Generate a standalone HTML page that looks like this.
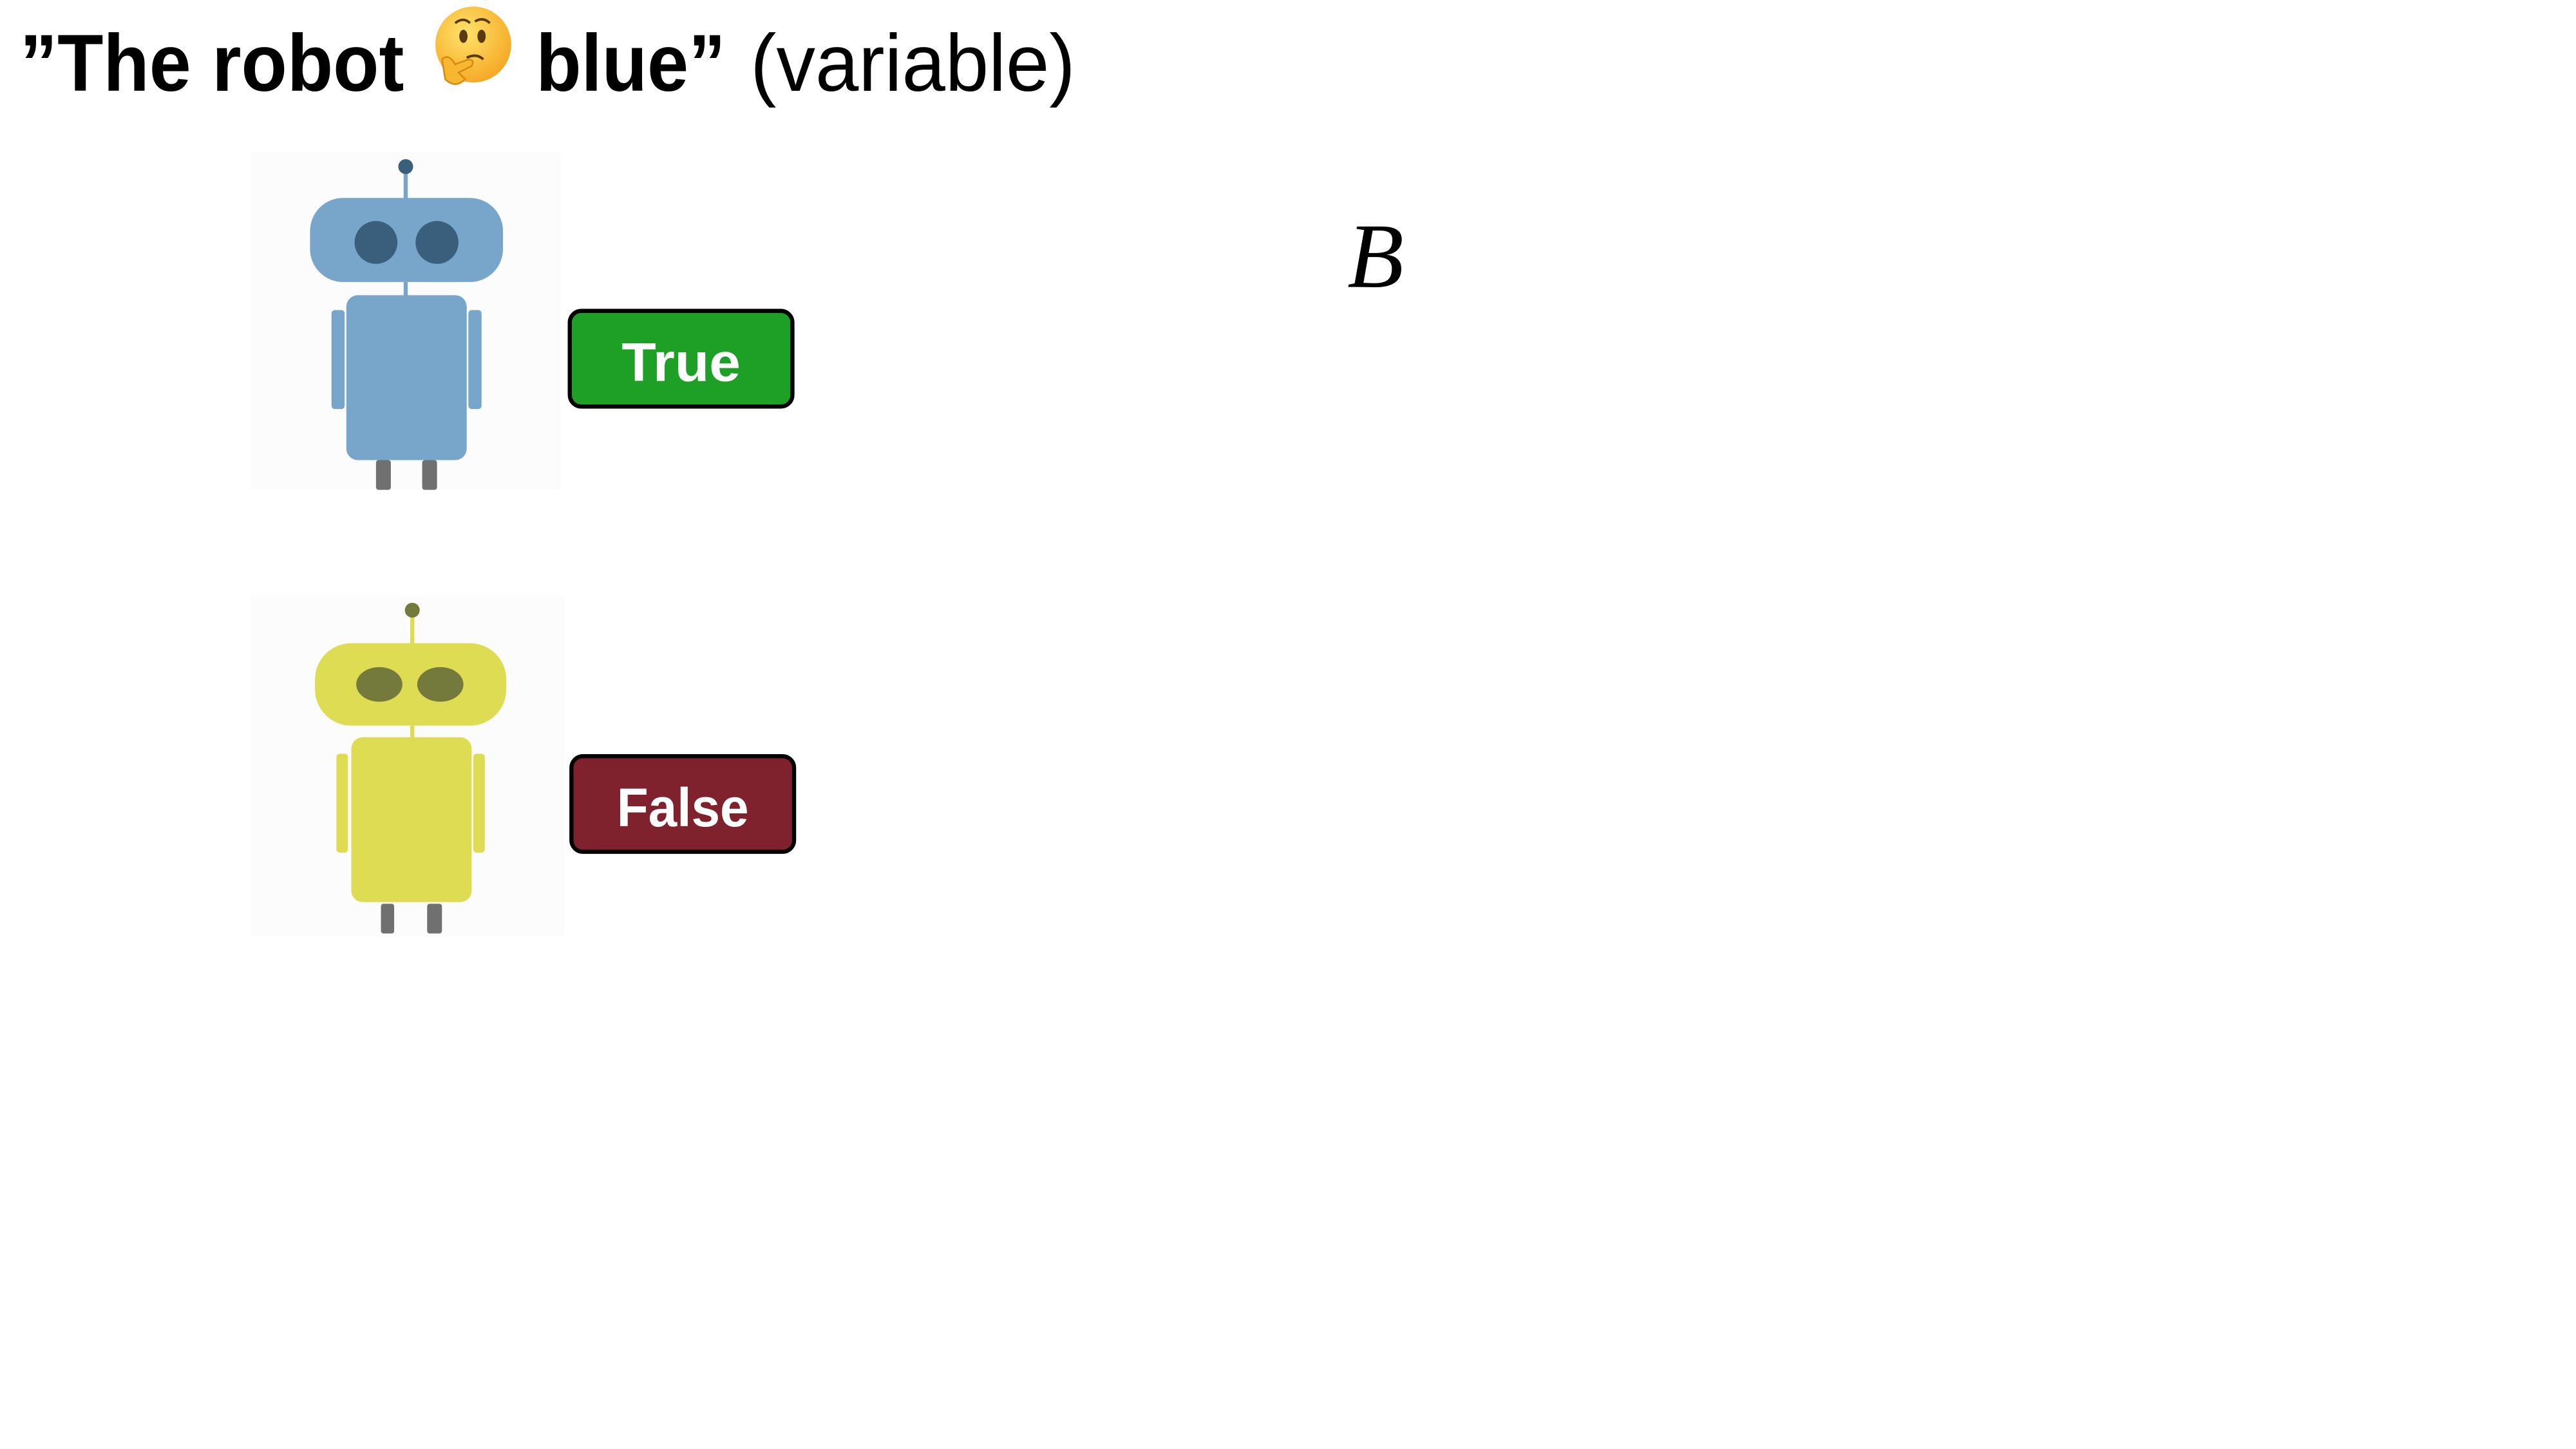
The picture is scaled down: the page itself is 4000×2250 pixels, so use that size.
<!DOCTYPE html>
<html><head><meta charset="utf-8"><style>
html,body{margin:0;padding:0;background:#fff;width:4000px;height:2250px;overflow:hidden}
svg{display:block}
</style></head><body>
<svg width="4000" height="2250" viewBox="0 0 1562 878.6" xmlns="http://www.w3.org/2000/svg">
<rect width="1562" height="879" fill="#fff"/>
<text x="12" y="55" font-family="Liberation Sans, sans-serif" font-weight="bold" font-size="49" textLength="233" lengthAdjust="spacingAndGlyphs">”The robot</text>
<g>
<defs><radialGradient id="eg" cx="40%" cy="35%" r="70%"><stop offset="0" stop-color="#ffe36a"/><stop offset="1" stop-color="#f5a623"/></radialGradient></defs>
<ellipse cx="287" cy="27" rx="23" ry="23" fill="url(#eg)"/>
<ellipse cx="281" cy="22" rx="2.5" ry="4" fill="#5a3a10"/>
<ellipse cx="292" cy="22" rx="2.5" ry="4" fill="#5a3a10"/>
<path d="M276 14 q5 -4 9 0 M288 13 q5 -3 9 1" stroke="#5a3a10" stroke-width="1.5" fill="none"/>
<path d="M283 35 q6 -3 10 1" stroke="#5a3a10" stroke-width="1.5" fill="none"/>
<path d="M268 36 q4 -4 8 3 l8 -3 q4 0 2 4 l-8 4 l4 4 q-6 6 -12 0 z" fill="#f7b731" stroke="#d98a10" stroke-width="1"/>
</g>
<text x="325" y="55" font-family="Liberation Sans, sans-serif" font-weight="bold" font-size="49" textLength="115" lengthAdjust="spacingAndGlyphs">blue”</text>
<text x="455" y="55" font-family="Liberation Sans, sans-serif" font-size="49" textLength="197" lengthAdjust="spacingAndGlyphs">(variable)</text>

<!-- blue robot -->
<rect x="152" y="92" width="188" height="205" fill="#fcfcfc"/>
<line x1="246" y1="101" x2="246" y2="121" stroke="#78a6cb" stroke-width="2.5"/>
<ellipse cx="246" cy="101" rx="4.5" ry="4.5" fill="#3a5f7c"/>
<rect x="188" y="120" width="117" height="51" rx="20" fill="#78a6cb"/>
<ellipse cx="228" cy="147" rx="13" ry="13" fill="#3a5f7c"/>
<ellipse cx="265" cy="147" rx="13" ry="13" fill="#3a5f7c"/>
<line x1="246" y1="171" x2="246" y2="180" stroke="#78a6cb" stroke-width="2.5"/>
<rect x="201" y="188" width="8" height="60" rx="2" fill="#78a6cb"/>
<rect x="284" y="188" width="8" height="60" rx="2" fill="#78a6cb"/>
<rect x="210" y="179" width="73" height="100" rx="7" fill="#78a6cb"/>
<rect x="228" y="279" width="9" height="18" rx="1.5" fill="#707070"/>
<rect x="256" y="279" width="9" height="18" rx="1.5" fill="#707070"/>

<!-- yellow robot -->
<rect x="152" y="361" width="190" height="207" fill="#fcfcfc"/>
<line x1="250" y1="370" x2="250" y2="391" stroke="#dedc53" stroke-width="2.5"/>
<ellipse cx="250" cy="370" rx="4.5" ry="4.5" fill="#747a3b"/>
<rect x="191" y="390" width="116" height="50" rx="22" fill="#dedc53"/>
<ellipse cx="230" cy="415" rx="14" ry="10.5" fill="#747a3b"/>
<ellipse cx="267" cy="415" rx="14" ry="10.5" fill="#747a3b"/>
<line x1="250" y1="440" x2="250" y2="448" stroke="#dedc53" stroke-width="2.5"/>
<rect x="204" y="457" width="7" height="60" rx="2" fill="#dedc53"/>
<rect x="287" y="457" width="7" height="60" rx="2" fill="#dedc53"/>
<rect x="213" y="447" width="73" height="100" rx="7" fill="#dedc53"/>
<rect x="231" y="548" width="8" height="18" rx="1.5" fill="#707070"/>
<rect x="259" y="548" width="9" height="18" rx="1.5" fill="#707070"/>

<!-- True / False -->
<rect x="345.5" y="188.5" width="135" height="58" rx="7" fill="#1da025" stroke="#000" stroke-width="2.5"/>
<text x="413" y="231" text-anchor="middle" font-family="Liberation Sans, sans-serif" font-weight="bold" font-size="33" fill="#fff" textLength="72" lengthAdjust="spacingAndGlyphs">True</text>
<rect x="346.5" y="458.5" width="135" height="58" rx="7" fill="#80222d" stroke="#000" stroke-width="2.5"/>
<text x="414" y="501" text-anchor="middle" font-family="Liberation Sans, sans-serif" font-weight="bold" font-size="33" fill="#fff" textLength="80" lengthAdjust="spacingAndGlyphs">False</text>

<text x="817" y="174" font-family="Liberation Serif, serif" font-style="italic" font-size="56">B</text>
</svg>
</body></html>
